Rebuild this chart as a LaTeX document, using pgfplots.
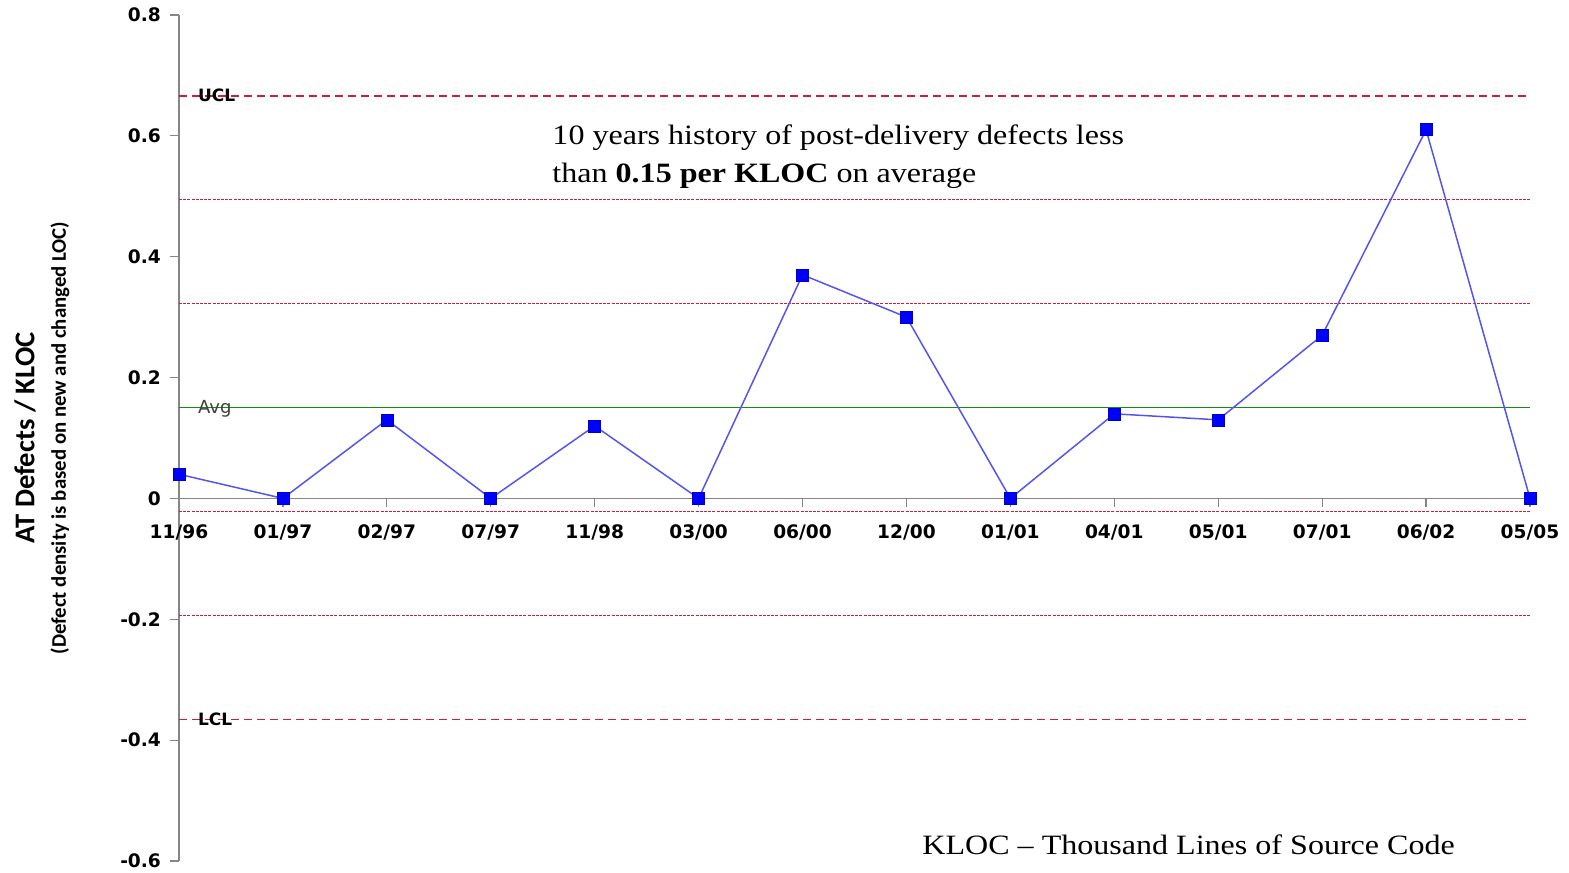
\documentclass[border=0pt]{standalone}
\usepackage{pgfplots}
\pgfplotsset{compat=1.18}
\usepackage{fontspec}
\setmainfont{Carlito}
\newfontfamily\dejavu{DejaVu Sans}
\newfontfamily\timesf{Liberation Serif}[FakeStretch=1.145]

\definecolor{ctrlred}{RGB}{205,30,60}
\definecolor{avggreen}{RGB}{20,140,20}
\definecolor{axisgray}{RGB}{134,134,134}
\definecolor{serblue}{RGB}{85,85,235}

\begin{document}
\begin{tikzpicture}
\begin{axis}[
    scale only axis,
    width=675.5pt, height=423pt,
    xmin=0, xmax=13, ymin=-0.6, ymax=0.8,
    axis x line*=middle, axis y line*=left,
    hide obscured x ticks=false, hide obscured y ticks=false,
    axis line style={draw=axisgray, line width=0.6pt},
    tick style={draw=axisgray, line width=0.6pt},
    tick align=outside, major tick length=4.5pt,
    xtick={0,1,2,3,4,5,6,7,8,9,10,11,12,13},
    xticklabels={11/96,01/97,02/97,07/97,11/98,03/00,06/00,12/00,01/01,04/01,05/01,07/01,06/02,05/05},
    ytick={-0.6,-0.4,-0.2,0,0.2,0.4,0.6,0.8},
    xticklabel style={font=\dejavu\bfseries\fontsize{9.3}{11}\selectfont, yshift=-5pt},
    yticklabel style={font=\dejavu\bfseries\fontsize{9.3}{11}\selectfont,
        /pgf/number format/fixed, /pgf/number format/precision=1, xshift=-1pt},
    /pgf/number format/assume math mode=true,
    clip=false,
]
    % control limits: avg 0.15, sigma 0.172
    \addplot[ctrlred, line width=0.6pt, dash pattern=on 4pt off 2.5pt] coordinates {(0,0.666) (13,0.666)};
    \addplot[ctrlred, line width=0.6pt, dash pattern=on 4pt off 2.5pt] coordinates {(0,-0.366) (13,-0.366)};
    \addplot[ctrlred, line width=0.5pt, dash pattern=on 1.5pt off 0.6pt] coordinates {(0,0.494) (13,0.494)};
    \addplot[ctrlred, line width=0.5pt, dash pattern=on 1.5pt off 0.6pt] coordinates {(0,0.322) (13,0.322)};
    \addplot[ctrlred, line width=0.5pt, dash pattern=on 1.5pt off 0.6pt] coordinates {(0,-0.022) (13,-0.022)};
    \addplot[ctrlred, line width=0.5pt, dash pattern=on 1.5pt off 0.6pt] coordinates {(0,-0.194) (13,-0.194)};
    \addplot[avggreen, line width=0.6pt] coordinates {(0,0.15) (13,0.15)};

    % defect density
    \addplot[serblue, line width=0.75pt, mark=square*,
        mark options={fill=blue, draw=blue!80!black, line width=0.3pt, solid},
        mark size=3pt] coordinates {
        (0,0.04) (1,0) (2,0.13) (3,0) (4,0.12) (5,0) (6,0.37)
        (7,0.30) (8,0) (9,0.14) (10,0.13) (11,0.27) (12,0.61) (13,0)
    };

    \node[anchor=base west, inner sep=0, yshift=-3pt] at (axis cs:0.18,0.666) {\dejavu\bfseries\fontsize{8.5}{10}\selectfont UCL};
    \node[anchor=base west, inner sep=0, yshift=-3pt] at (axis cs:0.18,-0.366) {\dejavu\bfseries\fontsize{8.5}{10}\selectfont LCL};
    \node[anchor=base west, inner sep=0, yshift=-3pt, text=black!75] at (axis cs:0.18,0.15) {\dejavu\fontsize{9}{10}\selectfont Avg};

    \node[anchor=base west, inner sep=0] at (axis cs:3.59,0.585) {\timesf\fontsize{14}{19}\selectfont 10 years history of post-delivery defects less};
    \node[anchor=base west, inner sep=0] at (axis cs:3.59,0.522) {\timesf\fontsize{14}{19}\selectfont than \textbf{0.15 per KLOC} on average};
    \node[anchor=base west, inner sep=0] at (axis cs:7.15,-0.590) {\timesf\fontsize{14}{19}\selectfont KLOC \textendash{} Thousand Lines of Source Code};

    \node[rotate=90, inner sep=0] at ([xshift=-77pt]rel axis cs:0,0.5) {\bfseries\fontsize{14.3}{16}\selectfont AT Defects / KLOC};
    \node[rotate=90, inner sep=0] at ([xshift=-59.5pt]rel axis cs:0,0.5) {\bfseries\fontsize{10.4}{12}\selectfont (Defect density is based on new and changed LOC)};

    \coordinate (bl) at (rel axis cs:0,0);
    \coordinate (tr) at (rel axis cs:1,1);
\end{axis}
\pgfresetboundingbox
\path ([shift={(-89.5pt,-6pt)}]bl) rectangle ([shift={(19.5pt,7.5pt)}]tr);
\end{tikzpicture}
\end{document}
